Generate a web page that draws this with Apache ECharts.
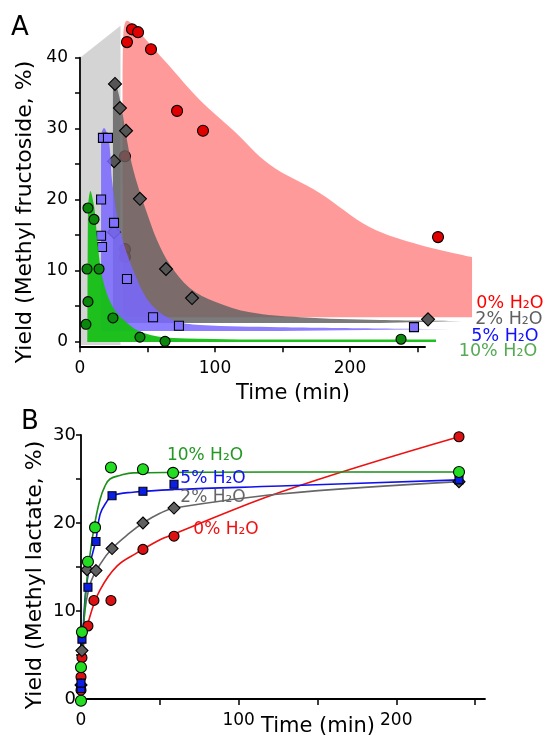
<!DOCTYPE html>
<html>
<head>
<meta charset="utf-8">
<script src="https://cdn.jsdelivr.net/npm/echarts@6/dist/echarts.min.js"></script>
<style>
  html, body { margin: 0; padding: 0; background: #ffffff; }
  #chart { width: 547px; height: 738px; }
</style>
</head>
<body>
<div id="chart"></div>
<script>
// ---------- axis ticks ----------
const timeTicks = [0, 50, 100, 150, 200, 250];
const timeLabels = [0, 100, 200];
const fructTicks = [0, 5, 10, 15, 20, 25, 30, 35, 40];
const fructLabels = [0, 10, 20, 30, 40];
const lactTicks = [0, 5, 10, 15, 20, 25, 30];
const lactLabels = [0, 10, 20, 30];

// ---------- panel A: methyl fructoside yield (%) vs time (min) ----------
const fruct0T = [34.8, 38.5, 43.0, 52.6, 71.9, 91.1, 265.2, 33.3, 33.3, 33.3];
const fruct0Y = [42.2, 44.0, 43.6, 41.2, 32.5, 29.7, 14.7, 26.1, 13.0, 11.9];
const fruct2T = [25.9, 29.6, 34.1, 25.2, 44.4, 63.7, 83.0, 257.8, 25.2];
const fruct2Y = [36.3, 32.9, 29.7, 25.4, 20.1, 10.2, 6.1, 3.1, 15.4];
const fruct5T = [17.0, 20.7, 15.6, 25.2, 15.6, 16.3, 34.8, 54.1, 73.3, 247.4];
const fruct5Y = [28.7, 28.7, 20.0, 16.7, 14.9, 13.3, 8.8, 3.4, 2.2, 2.0];
const fruct10T = [5.9, 10.4, 5.2, 14.1, 5.9, 4.4, 24.4, 44.4, 63.0, 237.8];
const fruct10Y = [18.8, 17.2, 10.2, 10.2, 5.6, 2.4, 3.3, 0.6, 0.0, 0.3];

// back wall of the waterfall box, [time, yield]
const ribbonBack = [[0.74, -0.5], [0.74, 40.1], [30.0, 44.5], [30.0, -0.5]];
// fitted decay ribbons: upper edge as [time, yield], filled down to a floor level
const ribbon0 = [[31.9, 3.4], [31.5, 34.0], [31.9, 42.5], [34.8, 45.2], [44.4, 43.5],
  [64.4, 39.2], [88.9, 34.0], [113.3, 29.8], [140.7, 24.9], [177.8, 20.9], [214.8, 16.1],
  [251.9, 13.6], [290.4, 11.9]];
const floor0 = 3.4;
const ribbon2 = [[24.4, 2.58], [24.4, 36.0], [25.6, 36.6], [26.7, 36.3], [30.4, 33.4],
  [34.1, 29.1], [38.5, 24.9], [43.7, 21.4], [49.6, 18.1], [57.0, 14.3], [66.7, 10.8],
  [81.5, 7.5], [100.0, 5.6], [125.9, 4.1], [163.0, 3.4], [222.2, 3.0], [283.0, 2.86]];
const floor2 = 2.58;
const ribbon5 = [[15.6, 1.45], [15.6, 29.0], [17.8, 30.1], [21.0, 28.6], [22.6, 26.0],
  [23.7, 22.7], [29.6, 15.7], [39.3, 10.1], [51.9, 5.4], [68.9, 3.0], [88.9, 2.3],
  [148.0, 2.0], [274.0, 1.73]];
const floor5 = 1.45;
const ribbon10 = [[5.6, -0.1], [5.9, 18.5], [7.8, 21.2], [9.6, 19.9], [11.1, 18.1],
  [13.3, 13.3], [17.0, 8.6], [24.4, 4.8], [34.8, 2.6], [46.7, 1.2], [68.9, 0.46],
  [148.0, 0.25], [263.7, 0.25]];
const floor10 = -0.1;

// ---------- panel B: methyl lactate yield (%) vs time (min) ----------
const lact0T = [0, 0, 0.6, 4.4, 8.2, 19.0, 39.3, 59.0, 239.8];
const lact0Y = [1.0, 2.5, 4.7, 8.3, 11.2, 11.2, 17.0, 18.5, 29.8];
const lact2T = [0, 0.6, 3.8, 9.5, 19.7, 39.3, 59.0, 239.8];
const lact2Y = [1.6, 5.5, 14.7, 14.6, 17.1, 20.0, 21.7, 24.7];
const lact5T = [0, 0, 0.6, 4.4, 9.5, 19.7, 39.3, 59.0, 239.8];
const lact5Y = [1.2, 1.8, 6.8, 12.7, 17.9, 23.1, 23.6, 24.4, 24.9];
const lact10T = [0, 0, 0.6, 4.4, 8.9, 19.0, 39.3, 58.4, 239.8];
const lact10Y = [-0.2, 3.6, 7.6, 15.6, 19.5, 26.3, 26.1, 25.7, 25.8];

// kinetic fit curves
const fit0T = [0.6, 1.3, 5.7, 12.1, 22.8, 35.5, 50.1, 58.4, 126.3, 239.8];
const fit0Y = [1.0, 5.6, 9.4, 12.4, 15.1, 16.6, 18.1, 18.7, 23.5, 29.8];
const fit2T = [0, 1.9, 5.7, 12.1, 19.7, 31.1, 39.3, 50.1, 59.0, 126.3, 239.8];
const fit2Y = [1.0, 9.0, 13.0, 15.3, 17.1, 18.9, 20.0, 21.1, 21.7, 23.3, 24.7];
const fit5T = [0, 2.5, 5.7, 9.5, 12.1, 15.9, 19.7, 33.0, 59.0, 126.3, 239.8];
const fit5Y = [1.0, 11.3, 15.3, 18.1, 21.0, 22.3, 23.1, 23.5, 23.8, 24.2, 24.9];
const fit10T = [0, 1.3, 3.2, 5.7, 8.9, 12.1, 15.2, 18.4, 24.7, 33.0, 126.3, 239.8];
const fit10Y = [0.1, 6.7, 12.4, 16.4, 20.1, 22.7, 24.2, 25.0, 25.4, 25.7, 25.8, 25.8];

// ---------- helpers ----------
const FONT = 'DejaVu Sans';
const zip = (xs, ys) => xs.map((x, i) => [x, ys[i]]);

// panel A geometry; the ribbons sit on a hidden twin grid with the same scale
// but a wider time range, since the perspective tails run past the axis end
const A = { left: 80, top: 57.7, height: 288.6, pxPerMin: 1.35, tMax: 255.6, tMaxRibbon: 300 };

function wall(points, fill, z) {
  return {
    type: 'custom', xAxisIndex: 0, yAxisIndex: 0, clip: false, silent: true, z: z,
    data: [[0, 0]],
    renderItem: (params, api) => ({
      type: 'polygon',
      shape: { points: points.map(p => api.coord(p)) },
      style: { fill: fill, stroke: null }
    })
  };
}

function ribbon(edge, floor, fill, z) {
  return {
    type: 'line', xAxisIndex: 2, yAxisIndex: 2, clip: false, silent: true, z: z,
    smooth: 0.35, showSymbol: false, symbol: 'none',
    lineStyle: { width: 0, opacity: 0 },
    areaStyle: { color: fill, opacity: 1, origin: floor },
    data: edge
  };
}

function dots(xs, ys, symbol, size, fill, axis, z) {
  return {
    type: 'scatter', xAxisIndex: axis, yAxisIndex: axis, clip: false, silent: true, z: z,
    symbol: symbol, symbolSize: size,
    itemStyle: { color: fill, borderColor: '#000', borderWidth: 1.1, opacity: 1 },
    data: zip(xs, ys)
  };
}

function fit(xs, ys, color) {
  return {
    type: 'line', xAxisIndex: 1, yAxisIndex: 1, clip: false, silent: true, z: 2,
    smooth: 0.4, showSymbol: false, symbol: 'none',
    lineStyle: { color: color, width: 1.6 },
    data: zip(xs, ys)
  };
}

function xAxisCfg(gridIndex, max, margin) {
  return {
    type: 'value', gridIndex: gridIndex, min: 0, max: max,
    axisLine: { show: true, onZero: false, lineStyle: { color: '#000', width: 1.8 } },
    axisTick: { show: true, customValues: timeTicks, length: 6, lineStyle: { color: '#000', width: 1.5 } },
    axisLabel: { customValues: timeLabels, fontFamily: FONT, fontSize: 17, color: '#000', margin: margin },
    splitLine: { show: false }
  };
}

function yAxisCfg(gridIndex, min, max, ticks, labels, margin, fs) {
  return {
    type: 'value', gridIndex: gridIndex, min: min, max: max,
    axisLine: { show: true, onZero: false, lineStyle: { color: '#000', width: 1.8 } },
    axisTick: { show: true, customValues: ticks, length: 5, lineStyle: { color: '#000', width: 1.5 } },
    axisLabel: { customValues: labels, fontFamily: FONT, fontSize: fs, color: '#000', margin: margin },
    splitLine: { show: false }
  };
}

function txt(x, y, text, size, color, rotation) {
  return {
    type: 'text', x: x, y: y, rotation: rotation || 0, silent: true, z: 20,
    style: { text: text, fill: color, fontFamily: FONT, fontSize: size, align: 'center', verticalAlign: 'middle' }
  };
}

const chart = echarts.init(document.getElementById('chart'), null, { renderer: 'canvas' });

chart.setOption({
  animation: false,
  backgroundColor: '#ffffff',
  grid: [
    { left: A.left, top: A.top, width: A.tMax * A.pxPerMin, height: A.height, outerBoundsMode: 'none' },
    { left: 81, top: 435, width: 404, height: 264, outerBoundsMode: 'none' },
    { left: A.left, top: A.top, width: A.tMaxRibbon * A.pxPerMin, height: A.height, outerBoundsMode: 'none' }
  ],
  xAxis: [
    xAxisCfg(0, A.tMax, 14),
    xAxisCfg(1, 256.3, 13),
    { type: 'value', gridIndex: 2, min: 0, max: A.tMaxRibbon, show: false }
  ],
  yAxis: [
    yAxisCfg(0, -0.7, 40, fructTicks, fructLabels, 12, 17),
    yAxisCfg(1, 0, 30, lactTicks, lactLabels, 5, 18),
    { type: 'value', gridIndex: 2, min: -0.7, max: 40, show: false }
  ],
  series: [
    // panel A, drawn back to front
    wall(ribbonBack, '#d4d4d4', 1),
    ribbon(ribbon0, floor0, '#ff9a9a', 2),
    dots(fruct0T, fruct0Y, 'circle', 11, '#e00000', 0, 3),
    ribbon(ribbon2, floor2, 'rgba(98,98,98,0.84)', 4),
    dots(fruct2T, fruct2Y, 'diamond', 13, '#555555', 0, 5),
    ribbon(ribbon5, floor5, 'rgba(122,104,255,0.86)', 6),
    dots(fruct5T, fruct5Y, 'rect', 9, '#8070ff', 0, 7),
    ribbon(ribbon10, floor10, 'rgba(22,190,22,0.96)', 8),
    dots(fruct10T, fruct10Y, 'circle', 10, '#0b870b', 0, 9),
    // panel B
    fit(fit0T, fit0Y, '#ee1111'),
    fit(fit2T, fit2Y, '#666666'),
    fit(fit5T, fit5Y, '#1111ee'),
    fit(fit10T, fit10Y, '#1a901a'),
    dots(lact0T, lact0Y, 'circle', 10, '#dd1111', 1, 3),
    dots(lact2T, lact2Y, 'diamond', 12, '#606060', 1, 3),
    dots(lact5T, lact5Y, 'rect', 8, '#0a1ee6', 1, 3),
    dots(lact10T, lact10Y, 'circle', 11, '#22dd22', 1, 3)
  ],
  graphic: [
    txt(20, 28, 'A', 26, '#000'),
    txt(30, 422, 'B', 26, '#000'),
    txt(25.5, 212, 'Yield (Methyl fructoside, %)', 22, '#000', Math.PI / 2),
    txt(35, 575, 'Yield (Methyl lactate, %)', 22, '#000', Math.PI / 2),
    txt(293, 394, 'Time (min)', 21, '#000'),
    txt(318, 727, 'Time (min)', 21, '#000'),
    txt(510, 303, '0% H₂O', 17.5, '#ff0000'),
    txt(509, 319, '2% H₂O', 17.5, '#606060'),
    txt(505, 336, '5% H₂O', 17.5, '#1010ff'),
    txt(498, 351, '10% H₂O', 17.5, '#55aa55'),
    txt(205, 456, '10% H₂O', 17, '#229922'),
    txt(213, 479, '5% H₂O', 17, '#1111ee'),
    txt(213, 498, '2% H₂O', 17, '#666666'),
    txt(226, 530, '0% H₂O', 17, '#ee1111')
  ]
});
</script>
</body>
</html>
